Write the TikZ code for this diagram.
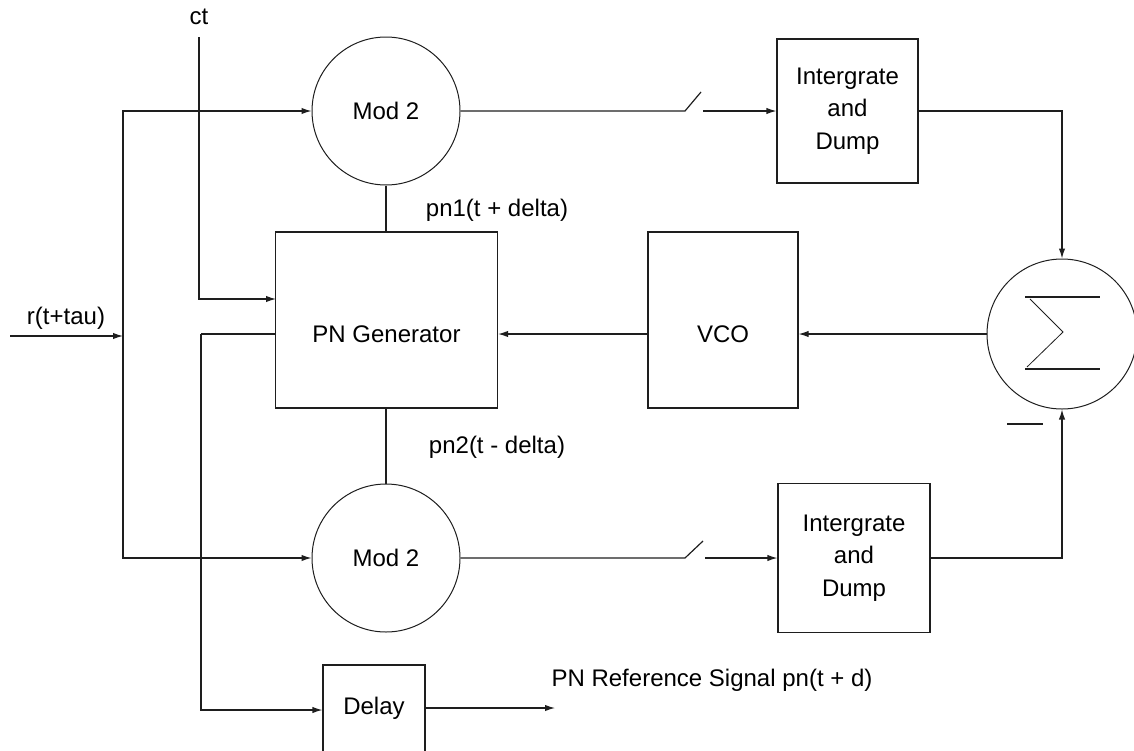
\documentclass[tikz,border=0pt]{standalone}
\usepackage{fontspec}
\setmainfont{Liberation Sans}
\usepackage{tikz}
\usetikzlibrary{arrows.meta,calc}
\definecolor{ink}{HTML}{1E1E1E}
\tikzset{
  wire/.style={draw=ink,line width=0.6pt},
  blk/.style={draw=ink,line width=0.6pt,inner sep=0pt},
  modc/.style={circle,draw=ink,line width=0.5pt,inner sep=0pt,minimum size=74pt},
  sumc/.style={circle,draw=ink,line width=0.5pt,inner sep=0pt,minimum size=75pt}
}

\begin{document}
\begin{tikzpicture}[x=0.5pt,y=-0.5pt,font=\fontsize{12}{16.2}\selectfont,
  >={Latex[length=5pt,width=3.2pt]}]
  \useasboundingbox (0,0) rectangle (1134,750);
  % blocks
  \node[modc] (mtop) at (386,111) {Mod 2};
  \node[modc] (mbot) at (386,558) {Mod 2};
  \node[blk,minimum width=111pt,minimum height=88pt] (pngen) at (386.5,320) {};
  \node[blk,minimum width=75pt,minimum height=88pt] (vco) at (723,320) {};
  \node[sumc] (sigma) at (1062,334) {};
  \node[blk,align=center,minimum width=70.5pt,minimum height=72pt] (inttop) at (847.5,111) {Intergrate\\and\\Dump};
  \node[blk,align=center,minimum width=76pt,minimum height=74.5pt] (intbot) at (854,558) {Intergrate\\and\\Dump};
  \node[blk,minimum width=51pt,minimum height=45pt] (delay) at (374,710) {};
  \node (pnlbl) at (pngen.center |- sigma) {PN Generator};
  \node (vcolbl) at (vco.center |- sigma) {VCO};
  \node (delaylbl) at (374,708) {Delay};
  % texts
  \node (ctlbl) at (199,17) {ct};
  \node (rlbl) at (66,318) {r(t+tau)};
  \node (pnalbl) at (497,210) {pn1(t + delta)};
  \node (pnblbl) at (497,447) {pn2(t - delta)};
  \node (reflbl) at (712,680) {PN Reference Signal pn(t + d)};
  % junctions
  \coordinate (cttop) at (199,37);
  \coordinate (ctin) at (276,299);
  \coordinate (rin) at (10,336);
  \coordinate (split) at (123,336);
  \coordinate (pnout) at (276,334);
  \coordinate (dtap) at (201,334);
  \coordinate (swaa) at (685,111);
  \coordinate (swab) at (701,92);
  \coordinate (swac) at (703,111);
  \coordinate (swba) at (685,558);
  \coordinate (swbb) at (703,541);
  \coordinate (swbc) at (705,558);
  \coordinate (refend) at (555,708);
  % input and ct
  \draw[wire,->] (rin) -- (split);
  \draw[wire,->] (split) |- (mtop.west);
  \draw[wire,->] (split) |- (mbot.west);
  \draw[wire,->] (cttop) |- (ctin);
  \draw[wire] (mtop.south) -- (mtop.south |- pngen.north);
  \draw[wire] (mbot.north |- pngen.south) -- (mbot.north);
  % delay branch
  \draw[wire] (pnout) -- (dtap);
  \draw[wire,->] (dtap) |- (delay.west);
  \draw[wire,->] (delay.east |- refend) -- (refend);
  % switches
  \draw[wire] (mtop.east) -- (swaa) -- (swab);
  \draw[wire,->] (swac) -- (inttop.west);
  \draw[wire] (mbot.east) -- (swba) -- (swbb);
  \draw[wire,->] (swbc) -- (intbot.west);
  % summer and loop
  \draw[wire,->] (inttop.east) -| (sigma.north);
  \draw[wire,->] (intbot.east) -| (sigma.south);
  \draw[wire,->] (sigma.west) -- (vco.east |- sigma.west);
  \draw[wire,->] (vco.west |- sigma.west) -- (pngen.east |- sigma.west);
  \draw[wire] ($(sigma)+(-37,-37)$) -- ++(75,0);
  \draw[wire,line width=0.4pt] ($(sigma)+(-32,-35)$) -- ($(sigma)+(1,-2)$) -- ($(sigma)+(-35,33)$);
  \draw[wire] ($(sigma)+(-37,35)$) -- ++(75,0);
  \draw[wire] (1007,424) -- (1043,424);
\end{tikzpicture}
\end{document}
